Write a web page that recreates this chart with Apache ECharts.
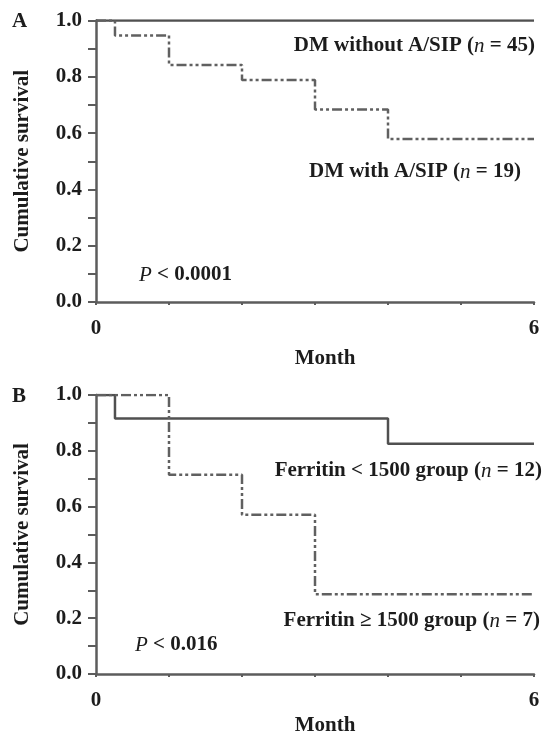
<!DOCTYPE html>
<html>
<head>
<meta charset="utf-8">
<script src="https://cdn.jsdelivr.net/npm/echarts@6/dist/echarts.min.js"></script>
<style>
html,body{margin:0;padding:0;background:#fff;}
#chart{width:545px;height:737px;}
</style>
</head>
<body>
<div id="chart"></div>
<script>
// ---- data ----
const xTicks = [0, 6];
const yTicks = [0.0, 0.2, 0.4, 0.6, 0.8, 1.0];
const monthsAWithout = [0, 6];
const survAWithout = [1, 1];
const monthsAWith = [0, 0.26, 1, 2, 3, 4, 6];
const survAWith = [1, 0.947, 0.842, 0.789, 0.684, 0.579, 0.579];
const monthsBLow = [0, 0.26, 4, 6];
const survBLow = [1, 0.916, 0.825, 0.825];
const monthsBHigh = [0, 1, 2, 3, 6];
const survBHigh = [1, 0.714, 0.571, 0.286, 0.286];

const FONT = "'Liberation Serif', 'DejaVu Serif', serif";
const TXT = '#1c1c1c';
const AX = '#5c5c5c';

function pairs(xs, ys) { return xs.map((x, i) => [x, ys[i]]); }

function xAxisDef(gridIndex, nameGap) {
  return {
    type: 'value', gridIndex, min: 0, max: 6, interval: 1,
    name: 'Month', nameLocation: 'middle', nameGap,
    nameTextStyle: { fontFamily: FONT, fontWeight: 'bold', fontSize: 21, color: TXT, padding: [0, 0, 0, 20] },
    axisLine: { show: true, onZero: false, lineStyle: { color: AX, width: 2.5 } },
    axisTick: { show: true, length: 3, lineStyle: { color: AX, width: 2 } },
    axisLabel: {
      margin: 16, fontFamily: FONT, fontWeight: 'bold', fontSize: 21, color: TXT,
      formatter: v => (xTicks.indexOf(v) >= 0 ? String(v) : '')
    },
    splitLine: { show: false }
  };
}
function yAxisDef(gridIndex) {
  return {
    type: 'value', gridIndex, min: 0, max: 1, interval: 0.1,
    name: 'Cumulative survival', nameLocation: 'middle', nameGap: 63, nameRotate: 90,
    nameTextStyle: { fontFamily: FONT, fontWeight: 'bold', fontSize: 21, color: TXT },
    axisLine: { show: true, lineStyle: { color: AX, width: 2.5 } },
    axisTick: { show: true, length: 8, lineStyle: { color: AX, width: 2 } },
    axisLabel: {
      margin: 14, fontFamily: FONT, fontWeight: 'bold', fontSize: 21, color: TXT,
      formatter: v => {
        const r = Math.round(v * 10) / 10;
        return yTicks.some(t => Math.abs(t - r) < 1e-6) ? r.toFixed(1) : '';
      }
    },
    splitLine: { show: false }
  };
}
const dashDot = [10, 3, 3, 3, 3, 3];
function lineSeries(data, xi, dashed) {
  return {
    type: 'line', xAxisIndex: xi, yAxisIndex: xi, step: 'end', symbol: 'none',
    data, silent: true,
    lineStyle: dashed ? { color: '#606060', width: 2.5, type: dashDot } : { color: '#505050', width: 2.5, type: 'solid' },
    z: dashed ? 3 : 2
  };
}
function txt(x, y, parts, align) {
  const rich = {
    b: { fontFamily: FONT, fontWeight: 'bold', fontSize: 21, fill: TXT },
    i: { fontFamily: FONT, fontWeight: 'normal', fontStyle: 'italic', fontSize: 21, fill: TXT }
  };
  return {
    type: 'text', x, y, silent: true,
    style: { text: parts, rich, align: align, verticalAlign: 'middle', font: 'bold 21px ' + FONT, fill: TXT }
  };
}

const chart = echarts.init(document.getElementById('chart'), null, { renderer: 'canvas' });
chart.setOption({
  animation: false,
  backgroundColor: '#fff',
  grid: [
    { left: 96, top: 20.5, width: 438, height: 281.5 },
    { left: 96, top: 395, width: 438, height: 281.5 }
  ],
  xAxis: [xAxisDef(0, 46), xAxisDef(1, 41)],
  yAxis: [yAxisDef(0), yAxisDef(1)],
  series: [
    lineSeries(pairs(monthsAWithout, survAWithout), 0, false),
    lineSeries(pairs(monthsAWith, survAWith), 0, true),
    lineSeries(pairs(monthsBLow, survBLow), 1, false),
    lineSeries(pairs(monthsBHigh, survBHigh), 1, true)
  ],
  graphic: [
    txt(12, 22, '{b|A}', 'left'),
    txt(12, 397, '{b|B}', 'left'),
    txt(535, 46, '{b|DM without A/SIP (}{i|n}{b| = 45)}', 'right'),
    txt(521, 172, '{b|DM with A/SIP (}{i|n}{b| = 19)}', 'right'),
    txt(139, 275, '{i|P}{b| < 0.0001}', 'left'),
    txt(542, 471, '{b|Ferritin < 1500 group (}{i|n}{b| = 12)}', 'right'),
    txt(540, 621, '{b|Ferritin ≥ 1500 group (}{i|n}{b| = 7)}', 'right'),
    txt(135, 645, '{i|P}{b| < 0.016}', 'left')
  ]
});
</script>
</body>
</html>
